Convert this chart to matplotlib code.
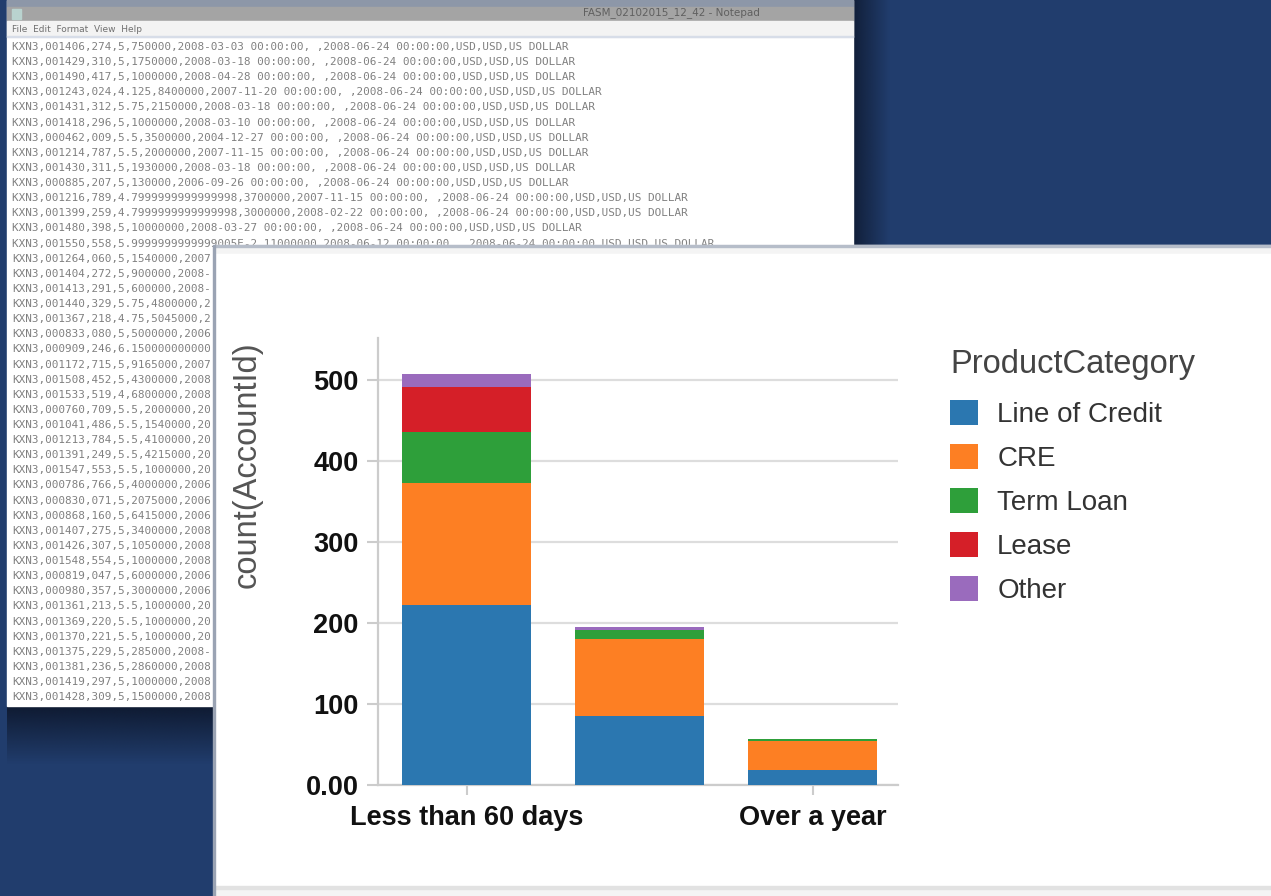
import numpy as np
import matplotlib
matplotlib.use("Agg")
import matplotlib.pyplot as plt
from matplotlib.patches import Rectangle

# dados do grafico
categorias = ["Less than 60 days", "60 days to a year", "Over a year"]
rotulos_x = ["Less than 60 days", "Over a year"]
idx_rotulos = [0, 2]
series = ["Line of Credit", "CRE", "Term Loan", "Lease", "Other"]
line_of_credit = [222, 85, 19]
cre = [151, 95, 35]
term_loan = [63, 12, 3]
lease = [56, 0, 0]
other = [15, 3, 0]
yticks = [0, 100, 200, 300, 400, 500]
ytick_labels = ["0.00", "100", "200", "300", "400", "500"]
cores = ["#2b77b0", "#fd7f23", "#2e9f3a", "#d51f28", "#9a6bbd"]

# texto do bloco de notas (as linhas de baixo ficam cortadas pelo painel)
linhas = [
    "KXN3,001406,274,5,750000,2008-03-03 00:00:00, ,2008-06-24 00:00:00,USD,USD,US DOLLAR",
    "KXN3,001429,310,5,1750000,2008-03-18 00:00:00, ,2008-06-24 00:00:00,USD,USD,US DOLLAR",
    "KXN3,001490,417,5,1000000,2008-04-28 00:00:00, ,2008-06-24 00:00:00,USD,USD,US DOLLAR",
    "KXN3,001243,024,4.125,8400000,2007-11-20 00:00:00, ,2008-06-24 00:00:00,USD,USD,US DOLLAR",
    "KXN3,001431,312,5.75,2150000,2008-03-18 00:00:00, ,2008-06-24 00:00:00,USD,USD,US DOLLAR",
    "KXN3,001418,296,5,1000000,2008-03-10 00:00:00, ,2008-06-24 00:00:00,USD,USD,US DOLLAR",
    "KXN3,000462,009,5.5,3500000,2004-12-27 00:00:00, ,2008-06-24 00:00:00,USD,USD,US DOLLAR",
    "KXN3,001214,787,5.5,2000000,2007-11-15 00:00:00, ,2008-06-24 00:00:00,USD,USD,US DOLLAR",
    "KXN3,001430,311,5,1930000,2008-03-18 00:00:00, ,2008-06-24 00:00:00,USD,USD,US DOLLAR",
    "KXN3,000885,207,5,130000,2006-09-26 00:00:00, ,2008-06-24 00:00:00,USD,USD,US DOLLAR",
    "KXN3,001216,789,4.7999999999999998,3700000,2007-11-15 00:00:00, ,2008-06-24 00:00:00,USD,USD,US DOLLAR",
    "KXN3,001399,259,4.7999999999999998,3000000,2008-02-22 00:00:00, ,2008-06-24 00:00:00,USD,USD,US DOLLAR",
    "KXN3,001480,398,5,10000000,2008-03-27 00:00:00, ,2008-06-24 00:00:00,USD,USD,US DOLLAR",
    "KXN3,001550,558,5.9999999999999005E-2,11000000,2008-06-12 00:00:00, ,2008-06-24 00:00:00,USD,USD,US DOLLAR",
    "KXN3,001264,060,5,1540000,2007",
    "KXN3,001404,272,5,900000,2008-",
    "KXN3,001413,291,5,600000,2008-",
    "KXN3,001440,329,5.75,4800000,2",
    "KXN3,001367,218,4.75,5045000,2",
    "KXN3,000833,080,5,5000000,2006",
    "KXN3,000909,246,6.150000000000",
    "KXN3,001172,715,5,9165000,2007",
    "KXN3,001508,452,5,4300000,2008",
    "KXN3,001533,519,4,6800000,2008",
    "KXN3,000760,709,5.5,2000000,20",
    "KXN3,001041,486,5.5,1540000,20",
    "KXN3,001213,784,5.5,4100000,20",
    "KXN3,001391,249,5.5,4215000,20",
    "KXN3,001547,553,5.5,1000000,20",
    "KXN3,000786,766,5,4000000,2006",
    "KXN3,000830,071,5,2075000,2006",
    "KXN3,000868,160,5,6415000,2006",
    "KXN3,001407,275,5,3400000,2008",
    "KXN3,001426,307,5,1050000,2008",
    "KXN3,001548,554,5,1000000,2008",
    "KXN3,000819,047,5,6000000,2006",
    "KXN3,000980,357,5,3000000,2006",
    "KXN3,001361,213,5.5,1000000,20",
    "KXN3,001369,220,5.5,1000000,20",
    "KXN3,001370,221,5.5,1000000,20",
    "KXN3,001375,229,5,285000,2008-",
    "KXN3,001381,236,5,2860000,2008",
    "KXN3,001419,297,5,1000000,2008",
    "KXN3,001428,309,5,1500000,2008",
]

W, H = 1271, 896
fig = plt.figure(figsize=(W / 100, H / 100), dpi=100)
fig.patch.set_facecolor("#213d6d")

# fundo: janela do notepad + painel branco, em coordenadas de pixel
bg = fig.add_axes([0, 0, 1, 1])
bg.set_xlim(0, W)
bg.set_ylim(H, 0)
bg.axis("off")


def sombra(x0, x1, y0, y1, horizontal, cor="#0c1528", amax=0.75):
    n = 64
    g = np.linspace(amax, 0, n)
    rgba = np.zeros((1, n, 4) if horizontal else (n, 1, 4))
    rgb = matplotlib.colors.to_rgb(cor)
    rgba[..., 0], rgba[..., 1], rgba[..., 2] = rgb
    rgba[..., 3] = g.reshape(rgba.shape[:2])
    bg.imshow(rgba, extent=(x0, x1, y1, y0), aspect="auto", zorder=1,
              interpolation="bilinear")


sombra(853, 890, 0, 246, horizontal=True)
sombra(7, 215, 706, 765, horizontal=False, amax=0.85)

# notepad
bg.add_patch(Rectangle((7, 0), 846, 706, color="white", zorder=2))
bg.add_patch(Rectangle((7, 0), 846, 7, color="#8d97a8", zorder=3))
bg.add_patch(Rectangle((7, 7), 846, 14, color="#a4a4a4", zorder=3))
bg.add_patch(Rectangle((7, 21), 846, 16, color="#f3f3f3", zorder=3))
bg.add_patch(Rectangle((7, 36), 846, 1.5, color="#d7dde8", zorder=3))
bg.add_patch(Rectangle((12, 9), 9, 10, color="#b9d3cf", zorder=4))
bg.text(760, 13, "FASM_02102015_12_42 - Notepad", fontsize=7.5, color="#606060",
        ha="right", va="center", family="DejaVu Sans", zorder=4)
bg.text(12, 29, "File  Edit  Format  View  Help", fontsize=6.5, color="#707070",
        ha="left", va="center", family="DejaVu Sans", zorder=4)
for i, linha in enumerate(linhas):
    bg.text(12, 47 + i * 15.12, linha, fontsize=7.9, color="#808080",
            family="DejaVu Sans Mono", ha="left", va="center", zorder=5,
            clip_on=True)

# painel do grafico
bg.add_patch(Rectangle((215, 245), W - 215, H - 245, color="#f4f4f4", zorder=10))
bg.add_patch(Rectangle((215, 245), W - 215, 2, color="#b6bdc9", zorder=11))
bg.add_patch(Rectangle((215, 254), W - 215, 634, color="white", zorder=11))
bg.add_patch(Rectangle((215, 886), W - 215, 3, color="#e2e2e2", zorder=11))
bg.add_patch(Rectangle((213, 245), 2, H - 245, color="#9aa3b3", zorder=11))

# grafico de barras empilhadas
ax = fig.add_axes([378 / W, 1 - 785 / H, 520 / W, 447 / H])
ax.set_facecolor("none")
x = np.arange(len(categorias))
base = np.zeros(len(categorias))
for nome, vals, cor in zip(series, [line_of_credit, cre, term_loan, lease, other], cores):
    ax.bar(x, vals, width=0.75, bottom=base, color=cor, label=nome, zorder=3,
           linewidth=0)
    base += np.array(vals)

ax.set_xlim(-0.512, 2.494)
ax.set_ylim(0, 552)
ax.set_yticks(yticks)
ax.set_yticklabels(ytick_labels)
ax.set_xticks(idx_rotulos)
ax.set_xticklabels(rotulos_x)
for lab in ax.get_xticklabels() + ax.get_yticklabels():
    lab.set_fontfamily("Liberation Sans")
    lab.set_fontweight("bold")
    lab.set_fontsize(19.5)
    lab.set_color("#111111")
ax.tick_params(axis="y", length=8, width=1.5, color="#cccccc", pad=6)
ax.tick_params(axis="x", length=7, width=1.5, color="#cccccc", pad=7.5)
ax.grid(axis="y", color="#dddddd", linewidth=1.6, zorder=0)
ax.set_axisbelow(True)
for s in ["top", "right"]:
    ax.spines[s].set_visible(False)
for s in ["left", "bottom"]:
    ax.spines[s].set_color("#cccccc")
    ax.spines[s].set_linewidth(1.6)

fig.text(247 / W, 1 - 465 / H, "count(AccountId)", rotation=90, fontsize=23.5,
         color="#555555", family="Liberation Sans", ha="center", va="center")

# legenda: titulo separado para acertar o espacamento
fig.text(950 / W, 1 - 364 / H, "ProductCategory", fontsize=23.5, color="#444444",
         family="Liberation Sans", ha="left", va="center")
leg = ax.legend(loc="upper left", bbox_to_anchor=(950 / W, 1 - 400 / H),
                bbox_transform=fig.transFigure, frameon=False,
                prop={"family": "Liberation Sans", "size": 20},
                handlelength=1.0, handleheight=1.0, handletextpad=0.7,
                labelspacing=0.58, borderpad=0, borderaxespad=0)
for t in leg.get_texts():
    t.set_color("#333333")

fig.savefig("out.png", dpi=100, facecolor=fig.get_facecolor())
